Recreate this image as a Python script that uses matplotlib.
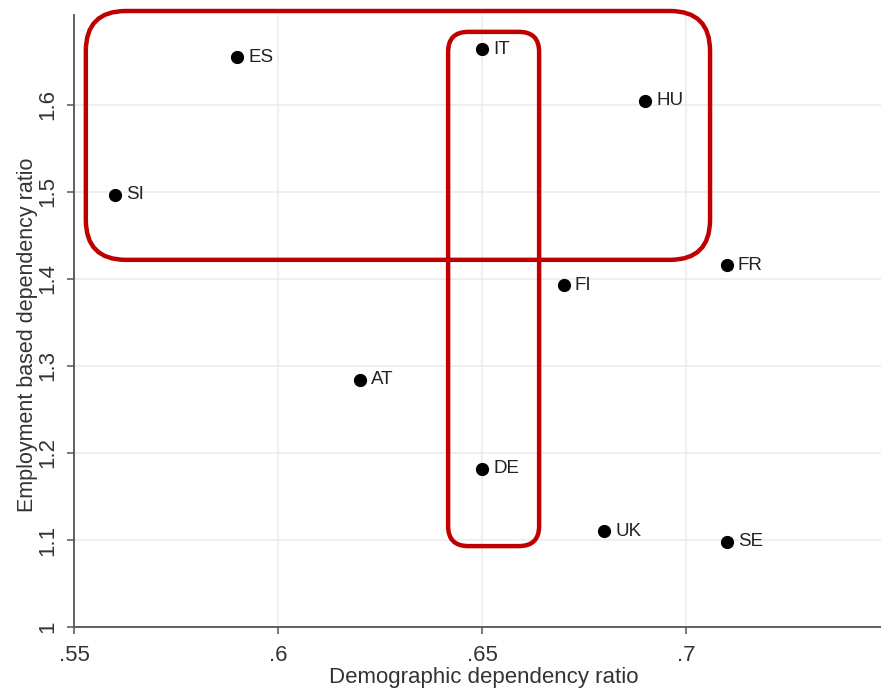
import matplotlib
matplotlib.use("Agg")
import matplotlib.pyplot as plt
from matplotlib.patches import FancyBboxPatch
from matplotlib.transforms import IdentityTransform

# data
countries = ["ES", "IT", "HU", "SI", "FR", "FI", "AT", "DE", "UK", "SE"]
demographic = [0.59, 0.65, 0.69, 0.56, 0.71, 0.67, 0.62, 0.65, 0.68, 0.71]
employment = [1.655, 1.664, 1.605, 1.497, 1.416, 1.393, 1.284, 1.182, 1.110, 1.098]

x_ticks = [0.55, 0.60, 0.65, 0.70]
x_tick_labels = [".55", ".6", ".65", ".7"]
y_ticks = [1.0, 1.1, 1.2, 1.3, 1.4, 1.5, 1.6]
y_tick_labels = ["1", "1.1", "1.2", "1.3", "1.4", "1.5", "1.6"]

# highlight boxes (x0, x1, y0, y1) in data units, corner radius in px
boxes = [
    (0.5529, 0.7059, 1.422, 1.708, 40),
    (0.6417, 0.6640, 1.093, 1.684, 20),
]

plt.rcParams['font.family'] = ['Liberation Sans', 'DejaVu Sans']

fig = plt.figure(figsize=(8.81, 6.91), dpi=100)
ax = fig.add_axes([74 / 881, 64 / 691, 807 / 881, 612 / 691])

ax.set_xlim(0.55, 0.7478)
ax.set_ylim(1.0, 1.7034)

ax.grid(True, color="#ebebeb", linewidth=1.1)
ax.set_axisbelow(True)

ax.plot(demographic, employment, "o", color="black", markersize=8.5, linestyle="none", zorder=3)
for name, x, y in zip(countries, demographic, employment):
    ax.annotate(name, (x, y), xytext=(8, 0), textcoords="offset points",
                ha="left", va="center", fontsize=13.5, color="#222222")

ax.set_xticks(x_ticks)
ax.set_xticklabels(x_tick_labels)
ax.set_yticks(y_ticks)
ax.set_yticklabels(y_tick_labels, rotation=90, va="center")

ax.tick_params(axis="both", direction="out", length=5, width=1.1, color="#555555",
               labelsize=16, labelcolor="#333333")
ax.tick_params(axis="y", pad=6)
ax.tick_params(axis="x", pad=8)

for side in ["top", "right"]:
    ax.spines[side].set_visible(False)
for side in ["left", "bottom"]:
    ax.spines[side].set_color("#555555")
    ax.spines[side].set_linewidth(1.3)

ax.set_xlabel("Demographic dependency ratio", fontsize=16, color="#333333", labelpad=1)
ax.set_ylabel("Employment based dependency ratio", fontsize=15.5, color="#333333", labelpad=0)
# labels sit a little off the axis centre in the original
ax.xaxis.label.set_x(0.508)
ax.yaxis.label.set_y(0.477)

# rounded red boxes drawn in pixel space so corners stay circular
for x0, x1, y0, y1, r in boxes:
    (px0, py0) = ax.transData.transform((x0, y0))
    (px1, py1) = ax.transData.transform((x1, y1))
    patch = FancyBboxPatch((px0, py0), px1 - px0, py1 - py0,
                           boxstyle=f"round,pad=0,rounding_size={r}",
                           transform=IdentityTransform(), fill=False,
                           edgecolor="#c00000", linewidth=3.2, zorder=4, clip_on=False)
    fig.add_artist(patch)

fig.savefig("out.png", dpi=100)
